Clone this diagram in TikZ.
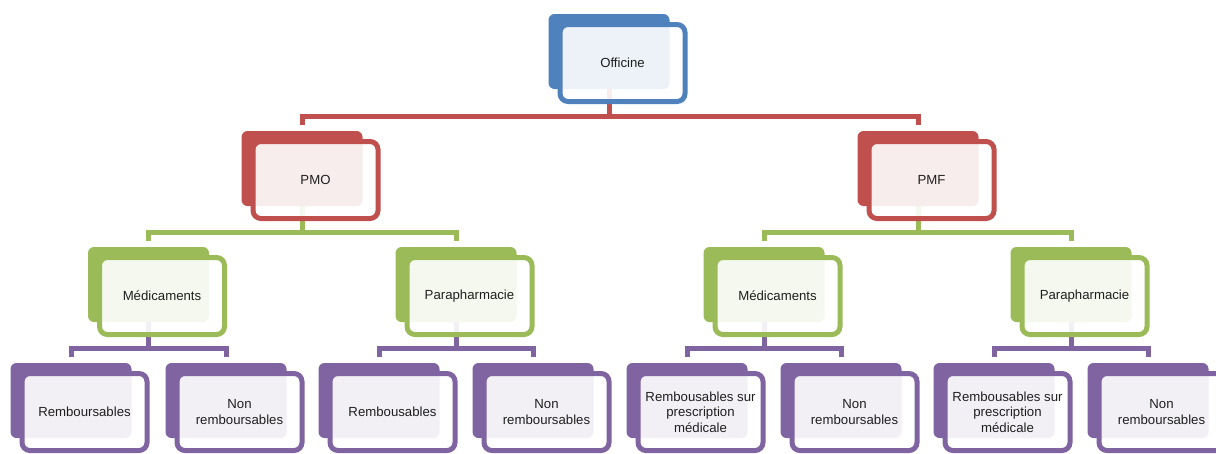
\documentclass[tikz,border=0pt]{standalone}
\usepackage{fontspec}
\setmainfont{Liberation Sans}
\definecolor{cblue}{HTML}{4F81BD}
\definecolor{cred}{HTML}{C0504D}
\definecolor{cgreen}{HTML}{9BBB59}
\definecolor{cpurple}{HTML}{8064A2}
\definecolor{ctext}{HTML}{1F1F1F}
\tikzset{
 backbox/.style={fill=#1, rounded corners=6pt, minimum width=121pt, minimum height=75pt, inner sep=0pt},
 frontbox/.style={draw=#1, line width=5pt, fill=white, fill opacity=0.9, text opacity=1, rounded corners=8pt, minimum width=125pt, minimum height=77pt, inner sep=0pt, align=center, font=\fontsize{13.2}{15.5}\selectfont, text=ctext, xshift=13.5pt, yshift=-11.5pt},
 conn/.style={draw=#1, line width=5pt, shorten >=6pt},
}
\begin{document}
\begin{tikzpicture}[x=1pt,y=-1pt]
\useasboundingbox (0,0) rectangle (1216,453);
\clip (0,0) rectangle (1216,453);
% back shapes
\node[backbox=cblue] (off) at (609,51.5) {};
\node[backbox=cred] (pmo) at (302,168.5) {};
\node[backbox=cred] (pmf) at (918,168.5) {};
\node[backbox=cgreen] (medA) at (148.5,284.5) {};
\node[backbox=cgreen] (parA) at (456,284.5) {};
\node[backbox=cgreen] (medB) at (764,284.5) {};
\node[backbox=cgreen] (parB) at (1071,284.5) {};
\node[backbox=cpurple] (r1) at (71,400.5) {};
\node[backbox=cpurple] (n1) at (226,400.5) {};
\node[backbox=cpurple] (r2) at (379,400.5) {};
\node[backbox=cpurple] (n2) at (533,400.5) {};
\node[backbox=cpurple] (r3) at (687,400.5) {};
\node[backbox=cpurple] (n3) at (841,400.5) {};
\node[backbox=cpurple] (r4) at (994,400.5) {};
\node[backbox=cpurple] (n4) at (1148,400.5) {};
% bar levels
\coordinate (b1) at (0,116);
\coordinate (b2) at (0,232.5);
\coordinate (b3) at (0,348);
% connectors
\foreach \p/\c in {off/pmo, off/pmf}
  \draw[conn=cred] (\p.south) -- (\p.south |- b1) -| (\c.north);
\foreach \p/\c in {pmo/medA, pmo/parA, pmf/medB, pmf/parB}
  \draw[conn=cgreen] (\p.south) -- (\p.south |- b2) -| (\c.north);
\foreach \p/\c in {medA/r1, medA/n1, parA/r2, parA/n2, medB/r3, medB/n3, parB/r4, parB/n4}
  \draw[conn=cpurple] (\p.south) -- (\p.south |- b3) -| (\c.north);
% front shapes with text
\node[frontbox=cblue] (offT) at (off) {Officine};
\node[frontbox=cred] (pmoT) at (pmo) {PMO};
\node[frontbox=cred] (pmfT) at (pmf) {PMF};
\node[frontbox=cgreen] (medAT) at (medA) {Médicaments};
\node[frontbox=cgreen] (parAT) at (parA) {Parapharmacie};
\node[frontbox=cgreen] (medBT) at (medB) {Médicaments};
\node[frontbox=cgreen] (parBT) at (parB) {Parapharmacie};
\node[frontbox=cpurple] (r1T) at (r1) {Remboursables};
\node[frontbox=cpurple] (n1T) at (n1) {Non\\remboursables};
\node[frontbox=cpurple] (r2T) at (r2) {Rembousables};
\node[frontbox=cpurple] (n2T) at (n2) {Non\\remboursables};
\node[frontbox=cpurple] (r3T) at (r3) {Rembousables sur\\prescription\\médicale};
\node[frontbox=cpurple] (n3T) at (n3) {Non\\remboursables};
\node[frontbox=cpurple] (r4T) at (r4) {Rembousables sur\\prescription\\médicale};
\node[frontbox=cpurple] (n4T) at (n4) {Non\\remboursables};
\end{tikzpicture}
\end{document}
